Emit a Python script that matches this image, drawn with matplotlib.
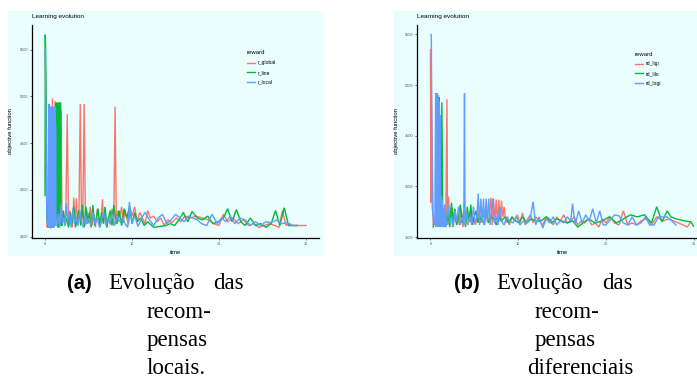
import matplotlib
matplotlib.use("Agg")
import matplotlib.pyplot as plt
from matplotlib.patches import Rectangle

# ---------------- data: panel (a) ----------------
a_global_t = [0.00, 0.05, 0.15, 0.25, 0.35, 0.45, 0.55, 0.65, 0.75, 0.85,
              0.95, 1.05, 1.15, 1.25, 1.35, 1.45, 1.55, 1.65, 1.75, 1.85,
              1.95, 2.10, 2.25, 2.40, 2.55, 2.70, 2.85, 3.00, 3.15, 3.30,
              3.45, 3.60, 3.75, 3.90, 4.05, 4.20, 4.35, 4.50, 4.65, 4.80,
              5.00, 5.20, 5.40, 5.60, 5.80, 6.00, 6.20, 6.40, 6.60, 6.75,
              6.90, 7.10, 7.30, 7.50, 7.70, 7.90, 8.05, 8.20, 8.40, 8.60,
              8.80, 9.00, 9.20, 9.40, 9.60, 9.80, 10.0, 10.3, 10.6, 10.9,
              11.2, 11.5, 11.8, 12.1, 12.5, 12.9, 13.3, 13.7, 14.1, 14.6,
              15.1, 15.6, 16.1, 16.7, 17.4, 18.1, 18.8, 19.4, 20.0, 20.5,
              21.0, 21.6, 22.2, 22.8, 23.4, 24.0, 24.6, 25.2, 25.8, 26.4,
              26.9, 27.3, 27.7, 28.1, 28.5, 28.9, 29.4, 30.0]
a_global_y = [5450, 5300, 4950, 3600, 3850, 3650, 3800, 3620, 3880, 4980,
              3650, 3800, 4950, 3620, 3700, 4900, 3600, 3850, 3650, 4850,
              3620, 3750, 3640, 3820, 4810, 3620, 3780, 3650, 3600, 3920,
              3640, 3910, 3620, 3760, 4920, 3640, 3800, 4920, 3620, 3780,
              3650, 3820, 3620, 3740, 3600, 3800, 3680, 3620, 3900, 3640,
              3760, 3600, 3720, 3630, 3800, 3620, 4890, 3640, 3780, 3700,
              3820, 3650, 3780, 3700, 3630, 3800, 3720, 3820, 3660, 3760,
              3700, 3640, 3780, 3700, 3720, 3660, 3700, 3620, 3680, 3650,
              3700, 3660, 3720, 3700, 3720, 3700, 3680, 3640, 3620, 3740,
              3660, 3700, 3640, 3680, 3620, 3640, 3600, 3620, 3640, 3620,
              3600, 3780, 3620, 3640, 3620, 3620, 3620, 3620]

a_line_t = [0.00, 0.03, 0.08, 0.20, 0.35, 0.50, 0.65, 0.80, 0.95, 1.10,
            1.25, 1.30, 1.33, 1.40, 1.47, 1.50, 1.57, 1.63, 1.66, 1.73,
            1.80, 1.83, 1.89, 1.95, 2.10, 2.30,
            2.50, 2.70, 2.90, 3.10, 3.30, 3.50, 3.70, 3.90, 4.10, 4.30,
            4.50, 4.70, 4.90, 5.10, 5.30, 5.50, 5.70, 5.90, 6.10, 6.30,
            6.50, 6.70, 6.90, 7.10, 7.30, 7.50, 7.70, 7.90, 8.10, 8.30,
            8.50, 8.80, 9.10, 9.40, 9.70, 10.0, 10.3, 10.6, 11.0, 11.4,
            11.8, 12.5, 13.2, 13.9, 14.4, 14.9, 15.4, 15.9, 16.4, 16.9,
            17.5, 18.1, 18.7, 19.3, 19.9, 20.5, 21.0, 21.5, 22.0, 22.5,
            23.0, 23.6, 24.2, 24.8, 25.4, 26.0, 26.5, 27.0, 27.5, 28.0,
            28.5, 29.0]
a_line_y = [3940, 5660, 5400, 3700, 3600, 3650, 3590, 3800, 3600, 3750,
            4930, 4930, 3620, 4930, 4930, 3600, 4930, 4930, 3650, 4930,
            4930, 3620, 3700, 3620, 3780, 3620,
            3700, 3600, 3760, 3640, 3820, 3600, 3700, 3780, 3620, 3840,
            3600, 3820, 3640, 3760, 3600, 3840, 3620, 3700, 3800, 3600,
            3760, 3640, 3820, 3600, 3700, 3780, 3620, 3840, 3700, 3640,
            3780, 3620, 3800, 3700, 3820, 3640, 3760, 3660, 3700, 3620,
            3660, 3600, 3610, 3620, 3640, 3620, 3680, 3760, 3660, 3770,
            3700, 3680, 3720, 3640, 3660, 3700, 3800, 3660, 3790, 3660,
            3620, 3700, 3620, 3640, 3600, 3640, 3780, 3620, 3810, 3620,
            3620, 3620]

a_local_t = [0.00, 0.08, 0.20, 0.30, 0.40, 0.47, 0.50, 0.53, 0.57, 0.60,
             0.63, 0.66, 0.70, 0.73, 0.77, 0.80, 0.84, 0.87, 0.90, 0.94,
             0.97, 1.00, 1.03, 1.07, 1.10, 1.14, 1.17, 1.21, 1.25, 1.30,
             1.40, 1.55, 1.70, 1.85, 2.00, 2.15, 2.30, 2.45, 2.60, 2.80,
             3.00, 3.20, 3.40, 3.60, 3.80, 4.00, 4.20, 4.40, 4.60, 4.80,
             5.00, 5.25, 5.50, 5.75, 6.00, 6.25, 6.50, 6.75, 7.00, 7.25,
             7.50, 7.75, 8.00, 8.30, 8.60, 8.90, 9.20, 9.50, 9.70, 10.0,
             10.3, 10.7, 11.1, 11.5, 12.0, 12.5, 13.0, 13.5, 14.0, 14.5,
             15.0, 15.5, 16.0, 16.5, 17.0, 17.5, 18.0, 18.6, 19.2, 19.8,
             20.3, 20.8, 21.3, 21.8, 22.4, 23.0, 23.6, 24.2, 24.8, 25.4,
             26.0, 26.6, 27.2, 27.8, 28.4, 29.0]
a_local_y = [5500, 5000, 3700, 3650, 3600, 4920, 3600, 4900, 3620, 4850,
             3600, 4880, 3650, 4850, 3600, 4890, 3640, 4800, 3600, 4850,
             3650, 4890, 3600, 4820, 3620, 4890, 3650, 4700, 3800, 3620,
             3620, 3750, 3600, 3850, 3640, 3700, 3620, 3860, 3650, 3760,
             3600, 3800, 3640, 3700, 3620, 3780, 3660, 3600, 3740, 3640,
             3700, 3620, 3760, 3640, 3700, 3600, 3680, 3760, 3620, 3700,
             3640, 3740, 3620, 3720, 3660, 3700, 3640, 3600, 3870, 3640,
             3720, 3610, 3700, 3760, 3680, 3620, 3700, 3740, 3640, 3680,
             3740, 3700, 3660, 3720, 3700, 3680, 3640, 3620, 3740, 3640,
             3700, 3660, 3720, 3640, 3700, 3680, 3620, 3660, 3620, 3660,
             3650, 3680, 3640, 3650, 3620, 3620]

# ---------------- data: panel (b) ----------------
b_ligi_t = [0.00, 0.04, 0.08, 0.20, 0.32, 0.45, 0.55, 0.65, 0.72, 0.78,
            0.85, 0.95, 1.05, 1.15, 1.25, 1.35, 1.45, 1.55, 1.65, 1.75,
            1.88, 1.95, 2.05, 2.20, 2.35, 2.50, 2.70, 2.90, 3.10, 3.30,
            3.50, 3.70, 3.90, 4.10, 4.30, 4.50, 4.70, 4.90, 5.10, 5.30,
            5.50, 5.70, 5.90, 6.10, 6.30, 6.50, 6.70, 6.90, 7.05, 7.20,
            7.35, 7.50, 7.65, 7.80, 7.95, 8.10, 8.25, 8.40, 8.60, 8.80,
            9.00, 9.30, 9.60, 9.90, 10.2, 10.5, 10.8, 11.1, 11.4, 11.7,
            12.0, 12.4, 12.8, 13.2, 13.6, 14.0, 14.4, 14.8, 15.2, 15.6,
            16.0, 16.4, 16.8, 17.2, 17.6, 18.0, 18.4, 18.8, 19.2, 19.6,
            20.0, 20.5, 21.0, 21.5, 22.0, 22.5, 23.0, 23.5, 24.0, 24.6,
            25.2, 25.8, 26.5, 27.2, 28.0, 28.8, 29.3, 29.6]
b_ligi_y = [5350, 3840, 5150, 4400, 3620, 3700, 3650, 3600, 4850, 3620,
            4860, 3620, 3800, 3650, 3600, 3750, 3620, 3700, 3600, 3650,
            4860, 3620, 3900, 3650, 3800, 3600, 3750, 3640, 3700, 3620,
            3780, 3600, 3700, 3650, 3620, 3750, 3640, 3700, 3620, 3680,
            3760, 3640, 3700, 3620, 3780, 3650, 3700, 3890, 3620, 3880,
            3640, 3870, 3620, 3870, 3650, 3860, 3700, 3800, 3640, 3700,
            3620, 3700, 3660, 3720, 3640, 3740, 3620, 3680, 3720, 3640,
            3700, 3660, 3620, 3700, 3680, 3620, 3700, 3660, 3720, 3640,
            3660, 3700, 3620, 3660, 3640, 3680, 3620, 3640, 3600, 3680,
            3640, 3700, 3640, 3620, 3760, 3620, 3640, 3620, 3660, 3680,
            3620, 3700, 3660, 3680, 3650, 3620, 3600, 3640]

b_lilo_t = [0.30, 0.45, 0.60, 0.75, 0.90, 1.00, 1.05, 1.10, 1.15, 1.20,
            1.30, 1.40, 1.55, 1.70, 1.85, 2.00, 2.20, 2.40, 2.60, 2.80,
            3.00, 3.20, 3.40, 3.60, 3.80, 4.00, 4.20, 4.40, 4.60, 4.80,
            5.00, 5.20, 5.40, 5.60, 5.80, 6.00, 6.30, 6.60, 6.90, 7.20,
            7.50, 7.80, 8.10, 8.50, 8.90, 9.30, 9.70, 10.1, 10.5, 11.0,
            11.5, 12.0, 12.6, 13.2, 13.8, 14.4, 15.0, 15.6, 16.2, 16.8,
            17.4, 18.0, 18.8, 19.6, 20.4, 21.2, 22.0, 22.8, 23.6, 24.4,
            25.2, 25.8, 26.4, 27.0, 27.4, 28.0, 29.0, 29.7, 30.0]
b_lilo_y = [3600, 3650, 3620, 3700, 3600, 4880, 3620, 4700, 3600, 3700,
            4830, 3650, 3600, 3760, 3640, 3720, 3600, 3840, 3650, 3780,
            3620, 3700, 3820, 3640, 3760, 3600, 3800, 3650, 3820, 3620,
            3700, 3760, 3640, 3720, 3660, 3700, 3760, 3640, 3700, 3680,
            3620, 3700, 3660, 3700, 3640, 3700, 3660, 3640, 3700, 3640,
            3680, 3660, 3660, 3700, 3640, 3680, 3660, 3640, 3660, 3600,
            3640, 3680, 3640, 3660, 3700, 3640, 3680, 3720, 3700, 3720,
            3640, 3800, 3650, 3760, 3700, 3680, 3660, 3650, 3610]

b_logi_t = [0.05, 0.10, 0.20, 0.35, 0.50, 0.60, 0.63, 0.66, 0.69, 0.72,
            0.75, 0.78, 0.81, 0.84, 0.87, 0.90, 0.93, 0.96, 0.99, 1.02,
            1.05, 1.08, 1.12, 1.16, 1.20, 1.25, 1.30, 1.35, 1.42, 1.50,
            1.58, 1.65, 1.72, 1.80, 2.00, 2.20, 2.40, 2.60, 2.80, 3.00,
            3.20, 3.40, 3.60, 3.80, 3.88, 3.95, 4.10, 4.30, 4.50, 4.70,
            4.90, 5.10, 5.30, 5.45, 5.60, 5.75, 5.90, 6.05, 6.20, 6.35,
            6.50, 6.65, 6.80, 6.95, 7.10, 7.30, 7.50, 7.70, 7.90, 8.10,
            8.40, 8.70, 9.00, 9.40, 9.80, 10.2, 10.6, 11.0, 11.4, 11.7,
            12.0, 12.4, 12.8, 13.2, 13.6, 14.0, 14.4, 14.8, 15.2, 15.6,
            16.0, 16.2, 16.5, 16.9, 17.3, 17.7, 18.1, 18.5, 18.9, 19.3,
            19.7, 20.0, 21.0, 21.5, 22.0, 22.5, 23.0, 23.5, 24.0, 24.5,
            25.0, 25.5, 26.0, 27.0, 28.0]
b_logi_y = [5500, 5480, 3800, 3650, 3620, 4920, 3600, 4900, 3620, 4840,
            3600, 4920, 3640, 4800, 3600, 4900, 3620, 4840, 3600, 4780,
            3650, 4700, 3600, 3860, 3620, 3900, 3600, 3860, 3640, 3780,
            3600, 3820, 3620, 3600, 3820, 3640, 3700, 3600, 3760, 3650,
            3800, 3620, 3700, 3640, 4920, 3620, 3760, 3650, 3700, 3620,
            3800, 3640, 3700, 3930, 3620, 3880, 3640, 3880, 3620, 3880,
            3650, 3880, 3620, 3760, 3880, 3640, 3700, 3620, 3800, 3660,
            3620, 3700, 3660, 3640, 3700, 3620, 3660, 3640, 3700, 3850,
            3620, 3700, 3590, 3680, 3640, 3700, 3620, 3660, 3640, 3700,
            3660, 3830, 3620, 3760, 3640, 3720, 3660, 3780, 3640, 3760,
            3620, 3620, 3720, 3710, 3640, 3620, 3700, 3620, 3640, 3700,
            3620, 3620, 3700, 3700, 3620]

legend_title = "reward"
panel_a_names = ["r_global", "r_line", "r_local"]
panel_b_names = ["rd_ligi", "rd_lilo", "rd_logi"]
colors = ["#F8766D", "#00BA38", "#619CFF"]
x_ticks = [0, 10, 20, 30]
y_ticks = [3500, 4000, 4500, 5000, 5500]
title_text = "Learning evolution"
xlabel_text = "time"
ylabel_text = "objective function"

# ---------------- figure ----------------
W, H = 697, 385
fig = plt.figure(figsize=(W / 100, H / 100), dpi=100)
fig.patch.set_facecolor("white")
BG = "#EBFEFE"
SANS = ["Liberation Sans", "DejaVu Sans"]
SERIF = ["Liberation Serif", "DejaVu Serif"]


def add_bg(x0, y0, x1, y1):
    fig.patches.append(Rectangle((x0 / W, 1 - y1 / H), (x1 - x0) / W, (y1 - y0) / H,
                                 transform=fig.transFigure, facecolor=BG,
                                 edgecolor="none", zorder=-10))


def add_ax(x0, y0, x1, y1):
    ax = fig.add_axes([x0 / W, 1 - y1 / H, (x1 - x0) / W, (y1 - y0) / H])
    ax.set_zorder(2)
    return ax


def style_panel(ax, series, names, leg_anchor):
    for (t, y), name, c in zip(series, names, colors):
        ax.plot(t, y, color=c, lw=1.0, label=name, solid_joinstyle="miter")
    allx = [v for t, _ in series for v in t]
    ally = [v for _, y in series for v in y]
    xr = max(allx) - min(allx)
    yr = max(ally) - min(ally)
    ax.set_xlim(min(allx) - 0.05 * xr, max(allx) + 0.05 * xr)
    ax.set_ylim(min(ally) - 0.05 * yr, max(ally) + 0.05 * yr)
    ax.set_facecolor("none")
    for s in ["top", "right"]:
        ax.spines[s].set_visible(False)
    for s in ["left", "bottom"]:
        ax.spines[s].set_color("#000000")
        ax.spines[s].set_linewidth(0.9)
    ax.set_xticks(x_ticks)
    ax.set_yticks(y_ticks)
    ax.set_xticklabels([str(v) for v in x_ticks])
    ax.set_yticklabels([str(v) for v in y_ticks])
    ax.tick_params(axis="both", length=1.6, width=0.5, color="#333333",
                   labelsize=2.7, labelcolor="#555555", pad=1.2)
    for lab in ax.get_xticklabels() + ax.get_yticklabels():
        lab.set_family(SANS)
    ax.set_xlabel(xlabel_text, fontsize=4.2, family=SANS)
    ax.set_ylabel(ylabel_text, fontsize=4.2, family=SANS)
    ax.text(0.0, 1.04, title_text, transform=ax.transAxes, fontsize=4.6,
            family=SANS, va="center", ha="left")
    leg = ax.legend(loc="upper left", bbox_to_anchor=leg_anchor,
                    bbox_transform=fig.transFigure, frameon=False,
                    title=legend_title, prop={"family": SANS, "size": 3.6},
                    title_fontproperties={"family": SANS, "size": 4.3},
                    handlelength=1.5, handletextpad=0.6, labelspacing=0.95,
                    borderpad=0, borderaxespad=0, alignment="left")
    for h in leg.get_lines():
        h.set_linewidth(1.0)
    return ax


# panel backgrounds
add_bg(8, 11, 323, 256)
add_bg(394, 11, 697, 256)

ax1 = add_ax(32, 25, 319, 238)
style_panel(ax1, [(a_global_t, a_global_y), (a_line_t, a_line_y), (a_local_t, a_local_y)],
            panel_a_names, (247 / W, 1 - 50.5 / H))
ax1.xaxis.set_label_coords((175 - 32) / 287, (238 - 250) / 213)
ax1.yaxis.set_label_coords((13 - 32) / 287, 0.5)

ax2 = add_ax(417.3, 24.7, 706.7, 237.7)
style_panel(ax2, [(b_ligi_t, b_ligi_y), (b_lilo_t, b_lilo_y), (b_logi_t, b_logi_y)],
            panel_b_names, (635 / W, 1 - 51.5 / H))
ax2.xaxis.set_label_coords((562 - 417.3) / 289.4, (237.7 - 250) / 213)
ax2.yaxis.set_label_coords((399 - 417.3) / 289.4, 0.5)

# captions
def ftext(x, y, s, **kw):
    fig.text(x / W, 1 - y / H, s, va="baseline", **kw)

CAP = 16.5
ftext(67, 289, "(a)", family=SANS, fontsize=14.5, fontweight="bold")
ftext(108, 289, "Evolução", family=SERIF, fontsize=CAP)
ftext(213, 289, "das", family=SERIF, fontsize=CAP)
ftext(147, 318, "recom-", family=SERIF, fontsize=CAP)
ftext(147, 346, "pensas", family=SERIF, fontsize=CAP)
ftext(147, 374, "locais.", family=SERIF, fontsize=CAP)

ftext(454, 289, "(b)", family=SANS, fontsize=14.5, fontweight="bold")
ftext(496, 289, "Evolução", family=SERIF, fontsize=CAP)
ftext(602, 289, "das", family=SERIF, fontsize=CAP)
ftext(535, 318, "recom-", family=SERIF, fontsize=CAP)
ftext(535, 346, "pensas", family=SERIF, fontsize=CAP)
ftext(527, 374, "diferenciais", family=SERIF, fontsize=CAP)

fig.savefig("out.png", dpi=100, facecolor="white")
